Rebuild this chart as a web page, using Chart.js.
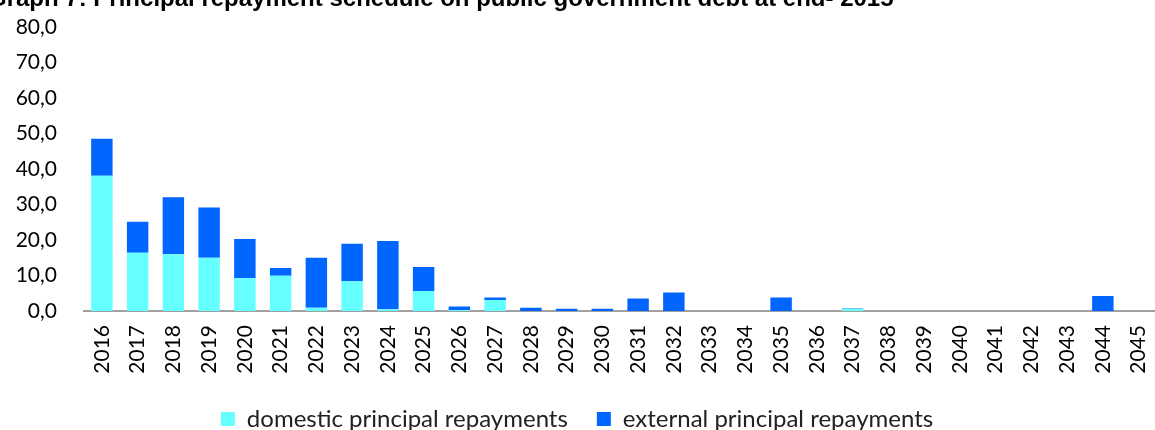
<!DOCTYPE html>
<html>
<head>
<meta charset="utf-8">
<script src="https://cdn.jsdelivr.net/npm/chart.js@4.4.1/dist/chart.umd.min.js"></script>
<style>
  html, body { margin: 0; padding: 0; background: #fff; overflow: hidden; }
  #wrap { position: relative; width: 1155px; height: 430px; overflow: hidden; }
  #debtChart { position: absolute; left: -12px; top: -15px; }
</style>
</head>
<body>
<div id="wrap">
  <canvas id="debtChart" width="1190" height="445"></canvas>
</div>
<script>
// repayment years
const years = ['2016', '2017', '2018', '2019', '2020', '2021', '2022', '2023', '2024', '2025',
    '2026', '2027', '2028', '2029', '2030', '2031', '2032', '2033', '2034', '2035',
    '2036', '2037', '2038', '2039', '2040', '2041', '2042', '2043', '2044', '2045'];
// values
const domestic = [38.1, 16.4, 16.0, 15.0, 9.2, 9.9, 0.9, 8.4, 0.5, 5.6,
    0.3, 3.1, 0, 0, 0, 0, 0, 0, 0, 0,
    0, 0.6, 0, 0, 0, 0, 0, 0, 0, 0];
const external = [10.4, 8.7, 16.0, 14.1, 11.1, 2.2, 14.1, 10.5, 19.2, 6.8,
    1.0, 0.7, 0.9, 0.6, 0.6, 3.5, 5.2, 0, 0, 3.8,
    0, 0.2, 0, 0, 0, 0, 0, 0, 4.2, 0];
const yTicks = [0, 10, 20, 30, 40, 50, 60, 70, 80];

const font = 'Lato, "Noto Sans", sans-serif';

chart1 = new Chart(document.getElementById('debtChart').getContext('2d'), {
    type: 'bar',
    data: {
        labels: years,
        datasets: [{
            label: 'domestic principal repayments',
            data: domestic,
            backgroundColor: '#66ffff',
            borderWidth: 0,
            barPercentage: 0.6,
            categoryPercentage: 1
        },
        {
            label: 'external principal repayments',
            data: external,
            backgroundColor: '#0066ff',
            borderWidth: 0,
            barPercentage: 0.6,
            categoryPercentage: 1
        }]
    },
    options: {
        responsive: false,
        animation: false,
        devicePixelRatio: 1,
        layout: { padding: { left: 0, right: 12, top: 0, bottom: 0 } },
        plugins: {
            title: {
                display: true,
                align: 'start',
                text: 'Graph 7: Principal repayment schedule on public government debt at end- 2015',
                color: '#000',
                font: { family: 'Arial, "Liberation Sans", sans-serif', size: 24, weight: 'bold' },
                padding: { top: 0, bottom: 13 }
            },
            legend: {
                position: 'bottom',
                maxHeight: 52,
                labels: {
                    color: '#222',
                    boxWidth: 14,
                    boxHeight: 14,
                    padding: 29,
                    font: { family: font, size: 24 }
                }
            },
            tooltip: { enabled: false }
        },
        scales: {
            x: {
                stacked: true,
                afterFit: function (scale) { scale.height = 67; },
                grid: { display: false, drawTicks: false, tickLength: 0 },
                border: { display: true, color: '#a0a0a0', width: 2 },
                ticks: {
                    color: '#000',
                    minRotation: 90,
                    maxRotation: 90,
                    autoSkip: false,
                    padding: 14,
                    font: { family: font, size: 21 }
                }
            },
            y: {
                stacked: true,
                min: 0,
                max: 80,
                afterFit: function (scale) { scale.width = 96; },
                afterBuildTicks: function (scale) {
                    scale.ticks = yTicks.map(function (v) { return { value: v }; });
                },
                grid: { display: false, drawTicks: false, tickLength: 0 },
                border: { display: false },
                ticks: {
                    color: '#000',
                    padding: 27,
                    font: { family: font, size: 21 },
                    callback: function (value) {
                        return value.toFixed(1).replace('.', ',');
                    }
                }
            }
        }
    }
});
</script>
</body>
</html>
